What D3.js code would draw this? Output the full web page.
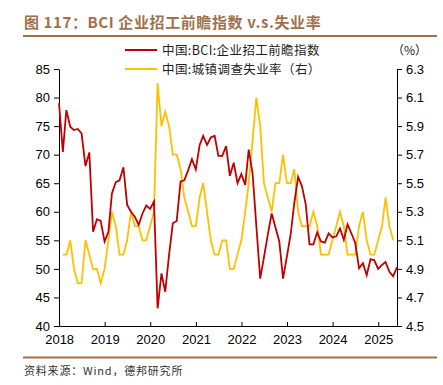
<!DOCTYPE html>
<html>
<head>
<meta charset="utf-8">
<script src="https://cdn.jsdelivr.net/npm/d3@7"></script>
<style>
  body { margin: 0; background: #fff; }
  svg { display: block; font-family: "Liberation Sans", Arial, "Noto Sans CJK SC", sans-serif; }
</style>
</head>
<body>
<div id="chart"></div>
<script>
// BCI hiring index, monthly from Dec 2017
const bciStart = [2017, 11];
const bciValues = [
  79.0,
  70.5, 77.8, 74.9, 74.3, 74.5, 73.7, 68.0, 70.4, 56.5, 58.7, 58.4, 54.8,
  56.5, 63.2, 65.2, 65.5, 67.8, 61.2, 60.0, 59.1, 57.7, 59.7, 61.1, 60.5,
  61.8, 43.1, 49.2, 46.0, 52.5, 58.0, 58.4, 65.3, 65.5, 67.3, 69.2, 67.4,
  71.7, 73.3, 71.7, 73.0, 73.3, 69.8, 69.8, 71.5, 66.3, 68.6, 65.0, 66.6,
  64.7, 70.9, 66.7, 57.5, 48.3, 52.0, 56.0, 59.7, 57.3, 54.8, 48.3, 52.2,
  56.2, 61.5, 66.1, 64.5, 61.3, 54.3, 54.3, 56.4, 54.8, 54.6, 56.2, 55.5,
  55.7, 57.1, 55.1, 57.8, 56.2, 54.6, 50.1, 51.0, 48.9, 51.7, 51.5, 50.0,
  50.7, 51.2, 49.5, 48.7, 50.3
];

// urban surveyed unemployment rate, monthly from Jan 2018
const ueStart = [2018, 0];
const ueValues = [
  5.0, 5.0, 5.1, 4.9, 4.8, 4.8, 5.1, 5.0, 4.9, 4.9, 4.8, 4.9,
  5.1, 5.3, 5.2, 5.0, 5.0, 5.1, 5.3, 5.2, 5.2, 5.1, 5.1, 5.2,
  5.3, 6.2, 5.9, 6.0, 5.9, 5.7, 5.7, 5.6, 5.4, 5.3, 5.2, 5.2,
  5.4, 5.5, 5.3, 5.1, 5.0, 5.0, 5.1, 5.1, 4.9, 4.9, 5.0, 5.1,
  5.3, 5.5, 5.8, 6.1, 5.9, 5.5, 5.4, 5.3, 5.5, 5.5, 5.7, 5.5,
  5.5, 5.6, 5.3, 5.2, 5.2, 5.2, 5.3, 5.2, 5.0, 5.0, 5.0, 5.1,
  5.2, 5.3, 5.2, 5.0, 5.0, 5.0, 5.2, 5.3, 5.1, 5.0, 5.0, 5.1,
  5.2, 5.4, 5.2, 5.1
];

const xYears = [2018, 2019, 2020, 2021, 2022, 2023, 2024, 2025];
const leftTicks = [40, 45, 50, 55, 60, 65, 70, 75, 80, 85];
const rightTicks = [4.5, 4.7, 4.9, 5.1, 5.3, 5.5, 5.7, 5.9, 6.1, 6.3];

const title = "图 117：BCI 企业招工前瞻指数 v.s.失业率";
const legendNames = ["中国:BCI:企业招工前瞻指数", "中国:城镇调查失业率（右）"];
const source = "资料来源：Wind，德邦研究所";

const width = 443, height = 385;
const brown = "#a0714b";
const red = "#c00000";
const yellow = "#ffc000";
const cjk = '"Noto Sans CJK SC", "Liberation Sans", sans-serif';

// points are dated at month end
const monthEnd = (y, m, i) => new Date(y, m + i + 1, 0);
const bci = bciValues.map((v, i) => ({ date: monthEnd(bciStart[0], bciStart[1], i), value: v }));
const ue = ueValues.map((v, i) => ({ date: monthEnd(ueStart[0], ueStart[1], i), value: v }));

const plot = { left: 59, right: 397, top: 69, bottom: 326 };

const svg = d3.select('#chart')
  .append('svg')
  .attr('width', width)
  .attr('height', height);

const x = d3.scaleTime()
  .domain([bci[0].date, bci[bci.length - 1].date])
  .range([plot.left, plot.right]);

const yL = d3.scaleLinear().domain([40, 85]).range([plot.bottom, plot.top]);
const yR = d3.scaleLinear().domain([4.5, 6.3]).range([plot.bottom, plot.top]);

// title and rules
svg.append('text')
  .attr('x', 24).attr('y', 28)
  .attr('fill', brown)
  .style('font-size', '15px')
  .style('font-weight', 'bold')
  .style('letter-spacing', '0.6px')
  .style('font-family', cjk)
  .text(title);

svg.append('line')
  .attr('x1', 23).attr('x2', 437).attr('y1', 36).attr('y2', 36)
  .attr('stroke', brown).attr('stroke-width', 2);

svg.append('line')
  .attr('x1', 23).attr('x2', 437).attr('y1', 357.5).attr('y2', 357.5)
  .attr('stroke', brown).attr('stroke-width', 2);

svg.append('text')
  .attr('x', 24).attr('y', 375)
  .attr('fill', '#333')
  .style('font-size', '11px')
  .style('letter-spacing', '0.8px')
  .style('font-family', cjk)
  .text(source);

// axes
const axisL = svg.append('g')
  .attr('transform', `translate(${plot.left},0)`)
  .call(d3.axisLeft(yL).tickValues(leftTicks).tickSize(5).tickSizeOuter(0).tickPadding(4));

const axisR = svg.append('g')
  .attr('transform', `translate(${plot.right},0)`)
  .call(d3.axisRight(yR).tickValues(rightTicks).tickFormat(d3.format('.1f'))
    .tickSize(5).tickSizeOuter(0).tickPadding(4));

const axisX = svg.append('g')
  .attr('transform', `translate(0,${plot.bottom})`)
  .call(d3.axisBottom(x).tickValues(xYears.map(yy => new Date(yy, 0, 1)))
    .tickFormat(d3.timeFormat('%Y')).tickSize(-4).tickSizeOuter(0).tickPadding(9));

[axisL, axisR, axisX].forEach(g => {
  g.selectAll('text')
    .attr('fill', '#000')
    .style('font-size', '13px')
    .style('font-family', '"Liberation Sans", Arial, sans-serif');
  g.selectAll('line, path').attr('stroke', '#000');
});

// lines
const lineL = d3.line().x(d => x(d.date)).y(d => yL(d.value));
const lineR = d3.line().x(d => x(d.date)).y(d => yR(d.value));

svg.append('path')
  .datum(ue)
  .attr('fill', 'none')
  .attr('stroke', yellow)
  .attr('stroke-width', 1.8)
  .attr('d', lineR);

svg.append('path')
  .datum(bci)
  .attr('fill', 'none')
  .attr('stroke', red)
  .attr('stroke-width', 1.8)
  .attr('d', lineL);

// legend
const legend = svg.append('g');
[red, yellow].forEach((c, i) => {
  const ly = 50 + i * 19;
  legend.append('line')
    .attr('x1', 125).attr('x2', 157).attr('y1', ly).attr('y2', ly)
    .attr('stroke', c).attr('stroke-width', 2);
  legend.append('text')
    .attr('x', 162).attr('y', ly + 4.5)
    .attr('fill', '#222')
    .style('font-size', '12.5px')
    .style('letter-spacing', '0.4px')
    .style('font-family', cjk)
    .text(legendNames[i]);
});

svg.append('text')
  .attr('x', 392).attr('y', 54.5)
  .attr('fill', '#222')
  .style('font-size', '12px')
  .style('font-family', cjk)
  .text('（%）');
</script>
</body>
</html>
